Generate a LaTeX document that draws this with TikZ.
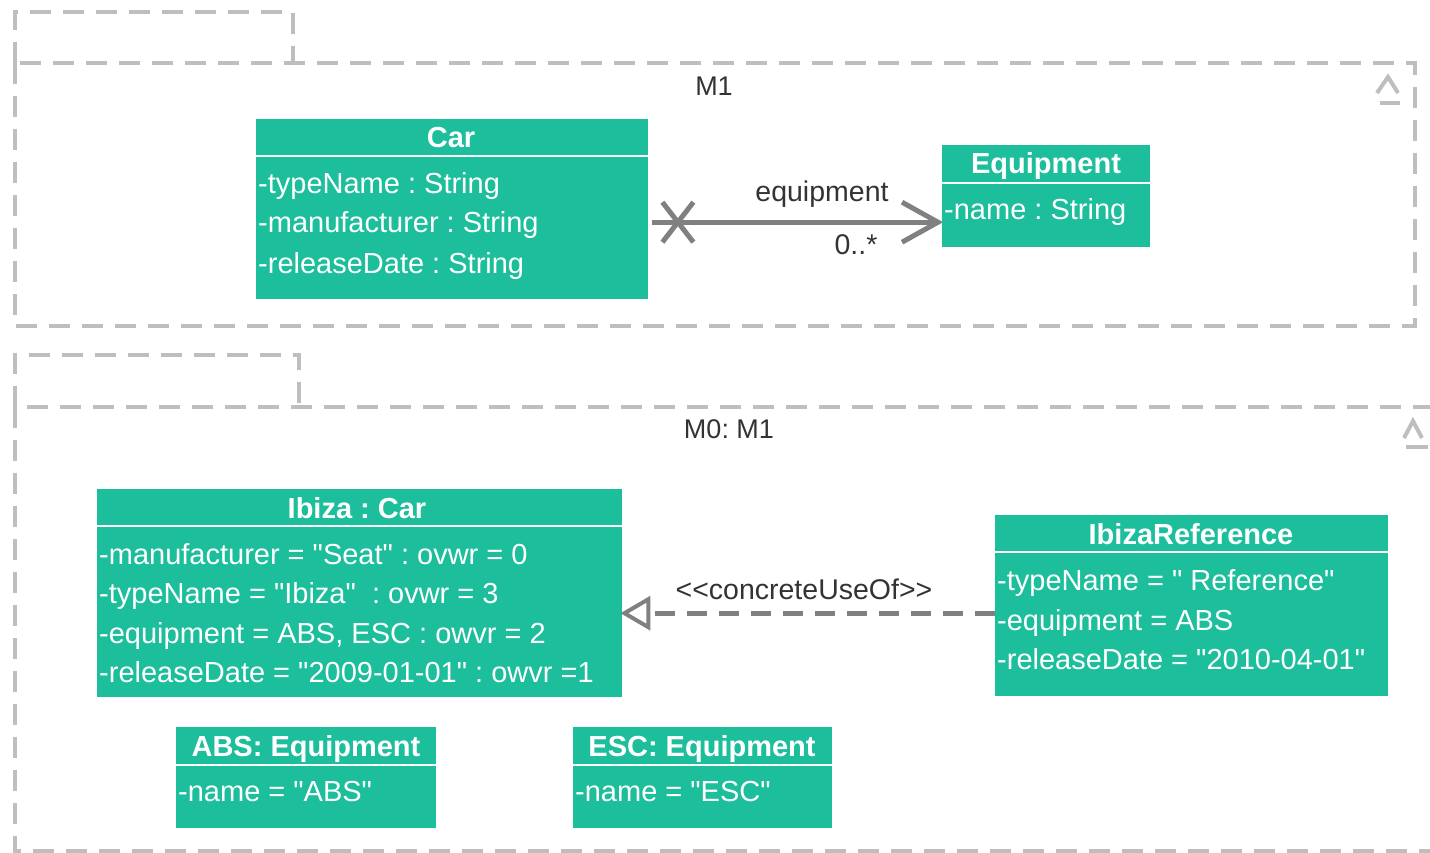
\documentclass[tikz,border=0pt]{standalone}
\usepackage{fontspec}
\newfontfamily\umlfont{Liberation Sans}
\usetikzlibrary{calc}
\definecolor{teal1}{HTML}{1CBE9C}
\definecolor{pkg}{HTML}{BEBEBE}
\definecolor{conn}{HTML}{808080}
\definecolor{txt}{HTML}{333333}
\begin{document}
\frenchspacing
\begin{tikzpicture}[x=1pt,y=-1pt,
  pkgline/.style={draw=pkg, line width=4pt, dash pattern=on 21pt off 12pt},
  classbox/.style={fill=teal1, draw=none, inner sep=0pt, anchor=north west},
  ctitle/.style={text=white, font=\umlfont\fontsize{29}{32}\selectfont\bfseries, inner sep=0pt, anchor=base},
  cattr/.style={text=white, font=\umlfont\fontsize{29}{32}\selectfont, inner sep=0pt, anchor=base west},
  sepline/.style={draw=white, line width=2.5pt},
  lbl/.style={text=txt, font=\umlfont\fontsize{27}{32}\selectfont, inner sep=0pt},
  clbl/.style={text=txt, font=\umlfont\fontsize{28.5}{32}\selectfont, inner sep=0pt},
  conline/.style={draw=conn, line width=5pt},
  pkgmark/.style={draw=pkg, line width=4pt}
]
\useasboundingbox (0,0) rectangle (1430,853);

% ---------- package M1 ----------
\draw[pkgline] (15,63) -- (15,12) -- (293,12) -- (293,63);
\draw[pkgline] (15,63) rectangle (1415,326);
\node[lbl] (M1lbl) at (714,86) {M1};
\draw[pkgmark] (1377,93) -- (1388,77) -- (1398,93);
\draw[pkgmark] (1380,103) -- (1400,103);

% ---------- package M0 ----------
\draw[pkgline] (15,407) -- (15,355) -- (299,355) -- (299,407);
\draw[pkgline] (1434,407) -- (15,407) -- (15,851) -- (1434,851);
\node[lbl] (M0lbl) at (729,429) {M0: M1};
\draw[pkgmark] (1404,438) -- (1413,421) -- (1422,438);
\draw[pkgmark] (1406,447) -- (1428,447);

% ---------- Car ----------
\node[classbox, minimum width=392pt, minimum height=180pt] (Car) at (256,119) {};
\node[ctitle] (CarT) at (451,148) {Car};
\draw[sepline] (256,156) -- (648,156);
\node[cattr] (CarA1) at (258,194) {-typeName : String};
\node[cattr] (CarA2) at (258,233) {-manufacturer : String};
\node[cattr] (CarA3) at (258,273) {-releaseDate : String};

% ---------- Equipment ----------
\node[classbox, minimum width=208pt, minimum height=102pt] (Equip) at (942,145) {};
\node[ctitle] (EquipT) at (1046,174) {Equipment};
\draw[sepline] (942,183) -- (1150,183);
\node[cattr] (EquipA1) at (944,220) {-name : String};

% ---------- association ----------
\draw[conline] ([xshift=4pt,yshift=-13pt]Car.east) coordinate (s1)
  -- ([xshift=-4pt,yshift=-26pt]Equip.west) coordinate (e1);
\draw[conline] ($(s1)+(10,-20)$) -- ($(s1)+(41,20)$);
\draw[conline] ($(s1)+(10,20)$) -- ($(s1)+(41,-20)$);
\draw[conline, line join=miter] ($(e1)+(-36,-20)$) -- (e1) -- ($(e1)+(-36,20)$);
\node[clbl] (assocName) at (822,194) {equipment};
\node[clbl] (assocMult) at (856,245) {0..*};

% ---------- Ibiza : Car ----------
\node[classbox, minimum width=525pt, minimum height=208pt] (Ibiza) at (97,489) {};
\node[ctitle] (IbizaT) at (357,518) {Ibiza : Car};
\draw[sepline] (97,526) -- (622,526);
\node[cattr] (IbizaA1) at (99,564) {-manufacturer = "Seat" : ovwr = 0};
\node[cattr] (IbizaA2) at (99,603) {-typeName = "Ibiza"\ \ : ovwr = 3};
\node[cattr] (IbizaA3) at (99,643) {-equipment = ABS, ESC : owvr = 2};
\node[cattr] (IbizaA4) at (99,682) {-releaseDate = "2009-01-01" : owvr =1};

% ---------- IbizaReference ----------
\node[classbox, minimum width=393pt, minimum height=181pt] (IbRef) at (995,515) {};
\node[ctitle] (IbRefT) at (1191,544) {IbizaReference};
\draw[sepline] (995,552) -- (1388,552);
\node[cattr] (IbRefA1) at (997,590) {-typeName = "\ Reference"};
\node[cattr] (IbRefA2) at (997,630) {-equipment = ABS};
\node[cattr] (IbRefA3) at (997,669) {-releaseDate = "2010-04-01"};

% ---------- concreteUseOf ----------
\coordinate (t2) at ([xshift=2pt,yshift=-20pt]Ibiza.east);
\draw[conline, dash pattern=on 20pt off 12pt] ([yshift=-7.5pt]IbRef.west) -- ($(t2)+(24,0)$);
\draw[draw=conn, fill=white, line width=4pt, line join=miter] (t2) -- ($(t2)+(24,-14)$) -- ($(t2)+(24,14)$) -- cycle;
\node[clbl] (cuo) at (804,589) {<<concreteUseOf>>};

% ---------- ABS / ESC ----------
\node[classbox, minimum width=260pt, minimum height=101pt] (ABS) at (176,727) {};
\node[ctitle] (ABST) at (306,756) {ABS: Equipment};
\draw[sepline] (176,765) -- (436,765);
\node[cattr] (ABSA1) at (178,801) {-name = "ABS"};

\node[classbox, minimum width=259pt, minimum height=101pt] (ESC) at (573,727) {};
\node[ctitle] (ESCT) at (702,756) {ESC: Equipment};
\draw[sepline] (573,765) -- (832,765);
\node[cattr] (ESCA1) at (575,801) {-name = "ESC"};
\end{tikzpicture}
\end{document}
